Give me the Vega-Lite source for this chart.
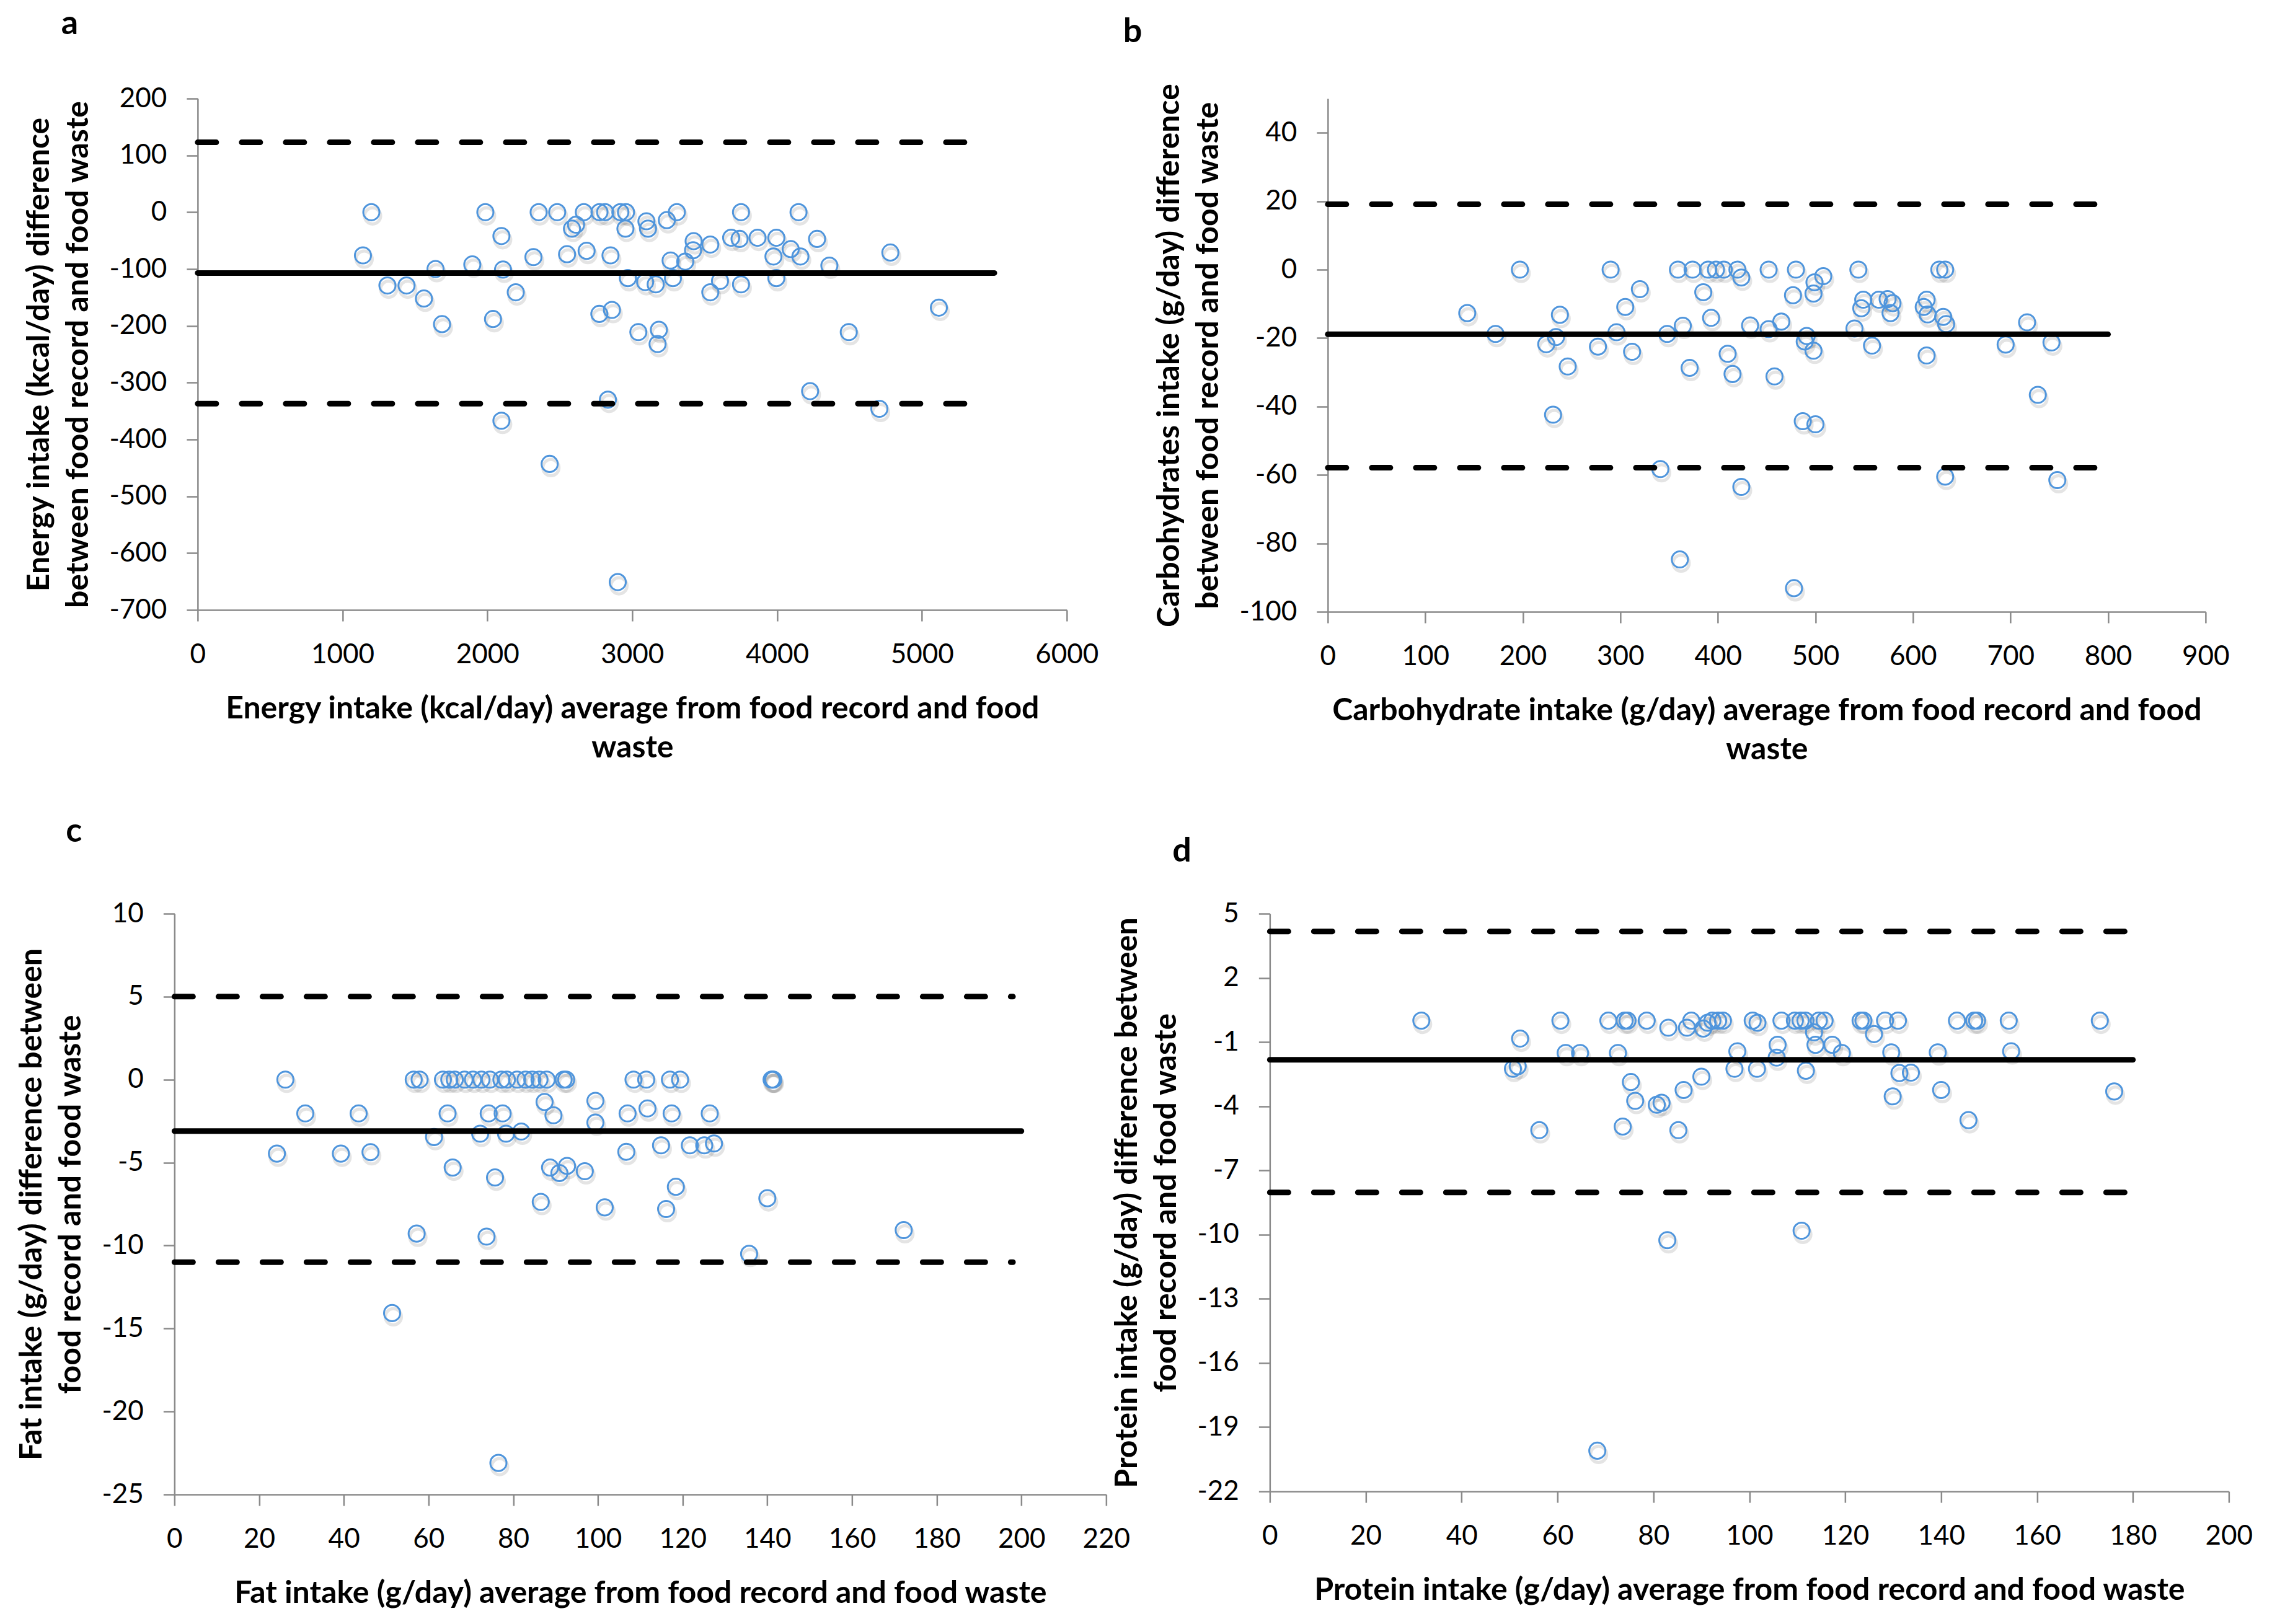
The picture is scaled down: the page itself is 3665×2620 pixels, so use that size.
{
  "$schema": "https://vega.github.io/schema/vega-lite/v6.json",
  "background": "white",
  "padding": {"left": 26, "top": 12, "right": 10, "bottom": 10},
  "bounds": "full",
  "center": true,
  "spacing": 81,
  "datasets": {
    "a_pts": [
      {"x": 1141, "y": -76}, {"x": 1199, "y": 0}, {"x": 1310, "y": -129}, {"x": 1442, "y": -129},
      {"x": 1562, "y": -152}, {"x": 1642, "y": -100}, {"x": 1687, "y": -197}, {"x": 1896, "y": -92},
      {"x": 1986, "y": 0}, {"x": 2039, "y": -188}, {"x": 2097, "y": -42}, {"x": 2097, "y": -367},
      {"x": 2108, "y": -101}, {"x": 2196, "y": -141}, {"x": 2318, "y": -79}, {"x": 2354, "y": 0},
      {"x": 2430, "y": -443}, {"x": 2482, "y": 0}, {"x": 2550, "y": -74}, {"x": 2584, "y": -29},
      {"x": 2612, "y": -22}, {"x": 2666, "y": 0}, {"x": 2685, "y": -68}, {"x": 2773, "y": -179},
      {"x": 2774, "y": 0}, {"x": 2813, "y": 0}, {"x": 2832, "y": -330}, {"x": 2850, "y": -76},
      {"x": 2860, "y": -172}, {"x": 2900, "y": -651}, {"x": 2918, "y": 0}, {"x": 2953, "y": -29},
      {"x": 2957, "y": 0}, {"x": 2970, "y": -116}, {"x": 3042, "y": -211}, {"x": 3089, "y": -123},
      {"x": 3098, "y": -16}, {"x": 3109, "y": -29}, {"x": 3162, "y": -127}, {"x": 3175, "y": -232},
      {"x": 3184, "y": -207}, {"x": 3239, "y": -14}, {"x": 3265, "y": -85}, {"x": 3281, "y": -116},
      {"x": 3308, "y": 0}, {"x": 3366, "y": -87}, {"x": 3420, "y": -67}, {"x": 3424, "y": -51},
      {"x": 3539, "y": -57}, {"x": 3539, "y": -141}, {"x": 3606, "y": -121}, {"x": 3683, "y": -45},
      {"x": 3741, "y": -47}, {"x": 3751, "y": 0}, {"x": 3751, "y": -127}, {"x": 3865, "y": -45},
      {"x": 3975, "y": -78}, {"x": 3995, "y": -45}, {"x": 3995, "y": -116}, {"x": 4094, "y": -65},
      {"x": 4148, "y": 0}, {"x": 4161, "y": -78}, {"x": 4228, "y": -315}, {"x": 4276, "y": -47},
      {"x": 4361, "y": -94}, {"x": 4495, "y": -211}, {"x": 4706, "y": -346}, {"x": 4782, "y": -71},
      {"x": 5117, "y": -168}
    ],
    "a_lines": [
      {"kind": "mean", "x": 0, "x2": 5500, "y": -107},
      {"kind": "loa", "x": 0, "x2": 5350, "y": 123},
      {"kind": "loa", "x": 0, "x2": 5350, "y": -337}
    ],
    "b_pts": [
      {"x": 143, "y": -12.7}, {"x": 172, "y": -18.8}, {"x": 197, "y": 0}, {"x": 224, "y": -21.8},
      {"x": 231, "y": -42.4}, {"x": 234, "y": -19.7}, {"x": 238, "y": -13.2}, {"x": 246, "y": -28.3},
      {"x": 277, "y": -22.5}, {"x": 290, "y": 0}, {"x": 296, "y": -18.3}, {"x": 305, "y": -10.9},
      {"x": 312, "y": -24}, {"x": 320, "y": -5.7}, {"x": 341, "y": -58.3}, {"x": 348, "y": -18.8},
      {"x": 359, "y": 0}, {"x": 361, "y": -84.7}, {"x": 364, "y": -16.4}, {"x": 371, "y": -28.7},
      {"x": 374, "y": 0}, {"x": 385, "y": -6.6}, {"x": 390, "y": 0}, {"x": 393, "y": -14.1},
      {"x": 398, "y": 0}, {"x": 406, "y": 0}, {"x": 410, "y": -24.6}, {"x": 415, "y": -30.5},
      {"x": 420, "y": 0}, {"x": 424, "y": -2.3}, {"x": 424, "y": -63.5}, {"x": 433, "y": -16.3},
      {"x": 452, "y": 0}, {"x": 452, "y": -17.4}, {"x": 458, "y": -31.2}, {"x": 465, "y": -15.2},
      {"x": 477, "y": -7.5}, {"x": 478, "y": -93.1}, {"x": 480, "y": 0}, {"x": 487, "y": -44.3},
      {"x": 489, "y": -21}, {"x": 491, "y": -19.4}, {"x": 498, "y": -23.7}, {"x": 498, "y": -7},
      {"x": 499, "y": -3.7}, {"x": 500, "y": -45.2}, {"x": 508, "y": -1.9}, {"x": 540, "y": -17.2},
      {"x": 544, "y": 0}, {"x": 547, "y": -11.3}, {"x": 549, "y": -8.8}, {"x": 558, "y": -22.2},
      {"x": 565, "y": -8.8}, {"x": 574, "y": -8.6}, {"x": 577, "y": -12.7}, {"x": 579, "y": -9.8},
      {"x": 611, "y": -10.9}, {"x": 614, "y": -8.8}, {"x": 614, "y": -25.1}, {"x": 615, "y": -13.1},
      {"x": 627, "y": 0}, {"x": 631, "y": -13.8}, {"x": 633, "y": 0}, {"x": 633, "y": -60.5},
      {"x": 634, "y": -15.9}, {"x": 695, "y": -21.9}, {"x": 717, "y": -15.4}, {"x": 728, "y": -36.6},
      {"x": 742, "y": -21.3}, {"x": 748, "y": -61.5}
    ],
    "b_lines": [
      {"kind": "mean", "x": 0, "x2": 800, "y": -18.9},
      {"kind": "loa", "x": 0, "x2": 790, "y": 19.1},
      {"kind": "loa", "x": 0, "x2": 790, "y": -57.9}
    ],
    "c_pts": [
      {"x": 24.2, "y": -4.46}, {"x": 26.2, "y": 0}, {"x": 30.9, "y": -2.04}, {"x": 39.3, "y": -4.46},
      {"x": 43.5, "y": -2.04}, {"x": 46.3, "y": -4.37}, {"x": 51.4, "y": -14.07}, {"x": 56.5, "y": 0},
      {"x": 57.2, "y": -9.28}, {"x": 57.9, "y": 0}, {"x": 61.3, "y": -3.46}, {"x": 63.4, "y": 0},
      {"x": 64.5, "y": -2.04}, {"x": 64.9, "y": 0}, {"x": 65.7, "y": -5.3}, {"x": 66.2, "y": 0},
      {"x": 68.5, "y": 0}, {"x": 70.5, "y": 0}, {"x": 72.2, "y": -3.26}, {"x": 72.5, "y": 0},
      {"x": 73.7, "y": -9.46}, {"x": 74.2, "y": -2.04}, {"x": 74.5, "y": 0}, {"x": 75.7, "y": -5.9},
      {"x": 76.5, "y": -23.1}, {"x": 77.2, "y": 0}, {"x": 77.5, "y": -2.04}, {"x": 78.3, "y": -3.26},
      {"x": 78.5, "y": 0}, {"x": 80.9, "y": 0}, {"x": 81.9, "y": -3.13}, {"x": 82.9, "y": 0},
      {"x": 84.5, "y": 0}, {"x": 86.2, "y": 0}, {"x": 86.5, "y": -7.37}, {"x": 87.4, "y": -1.35},
      {"x": 87.9, "y": 0}, {"x": 88.7, "y": -5.3}, {"x": 89.5, "y": -2.15}, {"x": 90.9, "y": -5.63},
      {"x": 91.9, "y": 0}, {"x": 92.5, "y": 0}, {"x": 92.7, "y": -5.2}, {"x": 96.9, "y": -5.52},
      {"x": 99.4, "y": -1.28}, {"x": 99.4, "y": -2.59}, {"x": 101.6, "y": -7.7}, {"x": 106.7, "y": -4.35},
      {"x": 107, "y": -2.04}, {"x": 108.4, "y": 0}, {"x": 111.4, "y": 0}, {"x": 111.7, "y": -1.74},
      {"x": 114.9, "y": -3.96}, {"x": 116.1, "y": -7.8}, {"x": 117, "y": 0}, {"x": 117.4, "y": -2.04},
      {"x": 118.4, "y": -6.46}, {"x": 119.4, "y": 0}, {"x": 121.7, "y": -3.96}, {"x": 125.1, "y": -3.96},
      {"x": 126.4, "y": -2.04}, {"x": 127.4, "y": -3.85}, {"x": 135.7, "y": -10.5}, {"x": 140, "y": -7.15},
      {"x": 141, "y": 0}, {"x": 141.2, "y": 0}, {"x": 141.4, "y": 0}, {"x": 172.2, "y": -9.07}
    ],
    "c_lines": [
      {"kind": "mean", "x": 0, "x2": 200, "y": -3.1},
      {"kind": "loa", "x": 0, "x2": 198, "y": 5.0},
      {"kind": "loa", "x": 0, "x2": 198, "y": -11.0}
    ],
    "d_pts": [
      {"x": 31.6, "y": 0}, {"x": 50.7, "y": -2.25}, {"x": 51.7, "y": -2.13}, {"x": 52.2, "y": -0.84},
      {"x": 56.2, "y": -5.12}, {"x": 60.6, "y": 0}, {"x": 61.7, "y": -1.51}, {"x": 64.7, "y": -1.51},
      {"x": 68.3, "y": -20.1}, {"x": 70.6, "y": 0}, {"x": 72.6, "y": -1.51}, {"x": 73.6, "y": -4.95},
      {"x": 74, "y": 0}, {"x": 74.6, "y": 0}, {"x": 75.3, "y": -2.87}, {"x": 76.2, "y": -3.75},
      {"x": 78.6, "y": 0}, {"x": 80.7, "y": -3.93}, {"x": 81.7, "y": -3.84}, {"x": 82.9, "y": -10.26},
      {"x": 83.1, "y": -0.33}, {"x": 85.2, "y": -5.12}, {"x": 86.3, "y": -3.24}, {"x": 87, "y": -0.33},
      {"x": 87.9, "y": 0}, {"x": 90, "y": -2.62}, {"x": 90.4, "y": -0.37}, {"x": 91.3, "y": -0.1},
      {"x": 92.3, "y": 0}, {"x": 93.5, "y": 0}, {"x": 94.5, "y": 0}, {"x": 96.9, "y": -2.25},
      {"x": 97.5, "y": -1.43}, {"x": 100.7, "y": 0}, {"x": 101.6, "y": -2.25}, {"x": 101.7, "y": -0.1},
      {"x": 105.7, "y": -1.73}, {"x": 105.9, "y": -1.13}, {"x": 106.7, "y": 0}, {"x": 109.5, "y": 0},
      {"x": 110.7, "y": 0}, {"x": 110.9, "y": -9.82}, {"x": 111.7, "y": 0}, {"x": 111.8, "y": -2.34},
      {"x": 113.5, "y": -0.55}, {"x": 113.8, "y": -1.13}, {"x": 114.5, "y": 0}, {"x": 115.7, "y": 0},
      {"x": 117.3, "y": -1.13}, {"x": 119.3, "y": -1.51}, {"x": 123.2, "y": 0}, {"x": 123.8, "y": 0},
      {"x": 126, "y": -0.63}, {"x": 128.3, "y": 0}, {"x": 129.6, "y": -1.48}, {"x": 129.9, "y": -3.54},
      {"x": 131, "y": 0}, {"x": 131.3, "y": -2.45}, {"x": 133.7, "y": -2.43}, {"x": 139.3, "y": -1.48},
      {"x": 140, "y": -3.24}, {"x": 143.3, "y": 0}, {"x": 145.7, "y": -4.65}, {"x": 146.9, "y": 0},
      {"x": 147.5, "y": 0}, {"x": 154.1, "y": 0}, {"x": 154.6, "y": -1.43}, {"x": 173.1, "y": 0},
      {"x": 176.1, "y": -3.31}
    ],
    "d_lines": [
      {"kind": "mean", "x": 0, "x2": 180, "y": -1.83},
      {"kind": "loa", "x": 0, "x2": 180, "y": 4.17},
      {"kind": "loa", "x": 0, "x2": 180, "y": -8.03}
    ]
  },
  "vconcat": [
    {
      "bounds": "flush",
      "spacing": 421,
      "hconcat": [
        {
          "title": {"text": "a", "anchor": "start", "frame": "group", "dx": -220, "offset": 71},
          "width": 1402,
          "height": 825,
          "layer": [
            {
              "data": {"name": "a_pts"},
              "mark": {"type": "point", "shape": "circle", "size": 680, "strokeWidth": 5, "color": "#000", "opacity": 0.1, "xOffset": 2, "yOffset": 6},
              "encoding": {
                "x": {"field": "x", "type": "quantitative",
                  "scale": {"domain": [0, 6000], "nice": false, "zero": false},
                  "axis": {"values": [0, 1000, 2000, 3000, 4000, 5000, 6000],
                    "title": ["Energy intake (kcal/day) average from food record and food", "waste"]}},
                "y": {"field": "y", "type": "quantitative",
                  "scale": {"domain": [-700, 200], "nice": false, "zero": false},
                  "axis": {"values": [-700, -600, -500, -400, -300, -200, -100, 0, 100, 200],
                    "title": ["Energy intake (kcal/day) difference", "between food record and food waste"]}}
              }
            },
            {
              "data": {"name": "a_pts"},
              "mark": {"type": "point", "shape": "circle", "size": 680, "strokeWidth": 3, "color": "#4f95dc", "opacity": 1},
              "encoding": {"x": {"field": "x", "type": "quantitative"}, "y": {"field": "y", "type": "quantitative"}}
            },
            {
              "data": {"name": "a_lines"},
              "transform": [{"filter": "datum.kind === 'mean'"}],
              "mark": {"type": "rule", "color": "#000", "strokeWidth": 9, "strokeCap": "round"},
              "encoding": {"x": {"field": "x", "type": "quantitative"}, "x2": {"field": "x2"}, "y": {"field": "y", "type": "quantitative"}}
            },
            {
              "data": {"name": "a_lines"},
              "transform": [{"filter": "datum.kind === 'loa'"}],
              "mark": {"type": "rule", "color": "#000", "strokeWidth": 9, "strokeCap": "round", "strokeDash": [30, 41]},
              "encoding": {"x": {"field": "x", "type": "quantitative"}, "x2": {"field": "x2"}, "y": {"field": "y", "type": "quantitative"}}
            }
          ]
        },
        {
          "title": {"text": "b", "anchor": "start", "frame": "group", "dx": -330, "offset": 56},
          "width": 1416,
          "height": 828,
          "layer": [
            {
              "data": {"name": "b_pts"},
              "mark": {"type": "point", "shape": "circle", "size": 680, "strokeWidth": 5, "color": "#000", "opacity": 0.1, "xOffset": 2, "yOffset": 6},
              "encoding": {
                "x": {"field": "x", "type": "quantitative",
                  "scale": {"domain": [0, 900], "nice": false, "zero": false},
                  "axis": {"values": [0, 100, 200, 300, 400, 500, 600, 700, 800, 900],
                    "title": ["Carbohydrate intake (g/day) average from food record and food", "waste"]}},
                "y": {"field": "y", "type": "quantitative",
                  "scale": {"domain": [-100, 50], "nice": false, "zero": false},
                  "axis": {"values": [-100, -80, -60, -40, -20, 0, 20, 40],
                    "title": ["Carbohydrates intake (g/day) difference", "between food record and food waste"]}}
              }
            },
            {
              "data": {"name": "b_pts"},
              "mark": {"type": "point", "shape": "circle", "size": 680, "strokeWidth": 3, "color": "#4f95dc", "opacity": 1},
              "encoding": {"x": {"field": "x", "type": "quantitative"}, "y": {"field": "y", "type": "quantitative"}}
            },
            {
              "data": {"name": "b_lines"},
              "transform": [{"filter": "datum.kind === 'mean'"}],
              "mark": {"type": "rule", "color": "#000", "strokeWidth": 9, "strokeCap": "round"},
              "encoding": {"x": {"field": "x", "type": "quantitative"}, "x2": {"field": "x2"}, "y": {"field": "y", "type": "quantitative"}}
            },
            {
              "data": {"name": "b_lines"},
              "transform": [{"filter": "datum.kind === 'loa'"}],
              "mark": {"type": "rule", "color": "#000", "strokeWidth": 9, "strokeCap": "round", "strokeDash": [30, 41]},
              "encoding": {"x": {"field": "x", "type": "quantitative"}, "x2": {"field": "x2"}, "y": {"field": "y", "type": "quantitative"}}
            }
          ]
        }
      ]
    },
    {
      "bounds": "flush",
      "spacing": 264,
      "hconcat": [
        {
          "title": {"text": "c", "anchor": "start", "frame": "group", "dx": -175, "offset": 83},
          "width": 1503,
          "height": 937,
          "layer": [
            {
              "data": {"name": "c_pts"},
              "mark": {"type": "point", "shape": "circle", "size": 680, "strokeWidth": 5, "color": "#000", "opacity": 0.1, "xOffset": 2, "yOffset": 6},
              "encoding": {
                "x": {"field": "x", "type": "quantitative",
                  "scale": {"domain": [0, 220], "nice": false, "zero": false},
                  "axis": {"values": [0, 20, 40, 60, 80, 100, 120, 140, 160, 180, 200, 220],
                    "title": "Fat intake (g/day) average from food record and food waste"}},
                "y": {"field": "y", "type": "quantitative",
                  "scale": {"domain": [-25, 10], "nice": false, "zero": false},
                  "axis": {"values": [-25, -20, -15, -10, -5, 0, 5, 10],
                    "title": ["Fat intake (g/day) difference between", "food record and food waste"]}}
              }
            },
            {
              "data": {"name": "c_pts"},
              "mark": {"type": "point", "shape": "circle", "size": 680, "strokeWidth": 3, "color": "#4f95dc", "opacity": 1},
              "encoding": {"x": {"field": "x", "type": "quantitative"}, "y": {"field": "y", "type": "quantitative"}}
            },
            {
              "data": {"name": "c_lines"},
              "transform": [{"filter": "datum.kind === 'mean'"}],
              "mark": {"type": "rule", "color": "#000", "strokeWidth": 9, "strokeCap": "round"},
              "encoding": {"x": {"field": "x", "type": "quantitative"}, "x2": {"field": "x2"}, "y": {"field": "y", "type": "quantitative"}}
            },
            {
              "data": {"name": "c_lines"},
              "transform": [{"filter": "datum.kind === 'loa'"}],
              "mark": {"type": "rule", "color": "#000", "strokeWidth": 9, "strokeCap": "round", "strokeDash": [30, 41]},
              "encoding": {"x": {"field": "x", "type": "quantitative"}, "x2": {"field": "x2"}, "y": {"field": "y", "type": "quantitative"}}
            }
          ]
        },
        {
          "title": {"text": "d", "anchor": "start", "frame": "group", "dx": -157, "offset": 51},
          "width": 1547,
          "height": 932,
          "layer": [
            {
              "data": {"name": "d_pts"},
              "mark": {"type": "point", "shape": "circle", "size": 680, "strokeWidth": 5, "color": "#000", "opacity": 0.1, "xOffset": 2, "yOffset": 6},
              "encoding": {
                "x": {"field": "x", "type": "quantitative",
                  "scale": {"domain": [0, 200], "nice": false, "zero": false},
                  "axis": {"values": [0, 20, 40, 60, 80, 100, 120, 140, 160, 180, 200],
                    "title": "Protein intake (g/day) average from food record and food waste"}},
                "y": {"field": "y", "type": "quantitative",
                  "scale": {"domain": [-22, 5], "nice": false, "zero": false},
                  "axis": {"values": [-22, -19, -16, -13, -10, -7, -4, -1, 2, 5],
                    "title": ["Protein intake (g/day) difference between", "food record and food waste"]}}
              }
            },
            {
              "data": {"name": "d_pts"},
              "mark": {"type": "point", "shape": "circle", "size": 680, "strokeWidth": 3, "color": "#4f95dc", "opacity": 1},
              "encoding": {"x": {"field": "x", "type": "quantitative"}, "y": {"field": "y", "type": "quantitative"}}
            },
            {
              "data": {"name": "d_lines"},
              "transform": [{"filter": "datum.kind === 'mean'"}],
              "mark": {"type": "rule", "color": "#000", "strokeWidth": 9, "strokeCap": "round"},
              "encoding": {"x": {"field": "x", "type": "quantitative"}, "x2": {"field": "x2"}, "y": {"field": "y", "type": "quantitative"}}
            },
            {
              "data": {"name": "d_lines"},
              "transform": [{"filter": "datum.kind === 'loa'"}],
              "mark": {"type": "rule", "color": "#000", "strokeWidth": 9, "strokeCap": "round", "strokeDash": [30, 41]},
              "encoding": {"x": {"field": "x", "type": "quantitative"}, "x2": {"field": "x2"}, "y": {"field": "y", "type": "quantitative"}}
            }
          ]
        }
      ]
    }
  ],
  "config": {
    "view": {"stroke": null},
    "font": "Lato",
    "title": {"font": "Lato", "fontSize": 54, "fontWeight": "bold", "color": "#000"},
    "axis": {
      "grid": false,
      "domainColor": "#8a8a8a",
      "domainWidth": 2.5,
      "tickColor": "#8a8a8a",
      "tickWidth": 2.5,
      "tickSize": 18,
      "labelFont": "Lato",
      "labelFontSize": 44,
      "labelColor": "#000",
      "labelPadding": 32,
      "labelFlush": false,
      "labelOverlap": false,
      "labelExpr": "'' + datum.value",
      "titleFont": "Lato",
      "titleFontSize": 50,
      "titleFontWeight": "bold",
      "titleColor": "#000",
      "titleLineHeight": 63
    },
    "axisX": {"titlePadding": 40},
    "axisY": {"titlePadding": 24}
  }
}
